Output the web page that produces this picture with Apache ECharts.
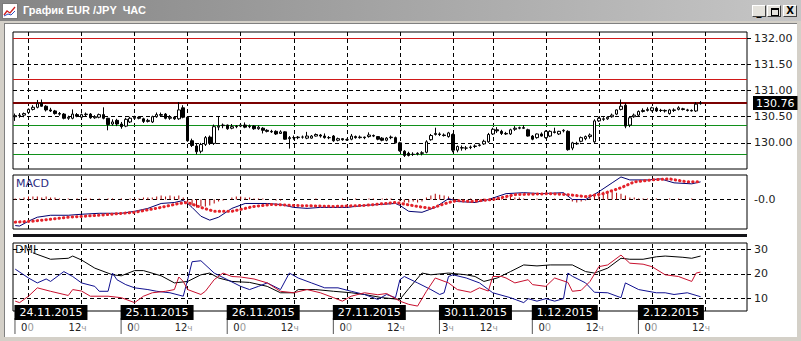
<!DOCTYPE html>
<html><head><meta charset="utf-8">
<script src="https://cdn.jsdelivr.net/npm/echarts@6/dist/echarts.min.js"></script>
<style>
html,body{margin:0;padding:0;width:801px;height:341px;overflow:hidden;background:#d4d0c8;}
#tb{position:absolute;left:0;top:0;width:801px;height:21px;background:linear-gradient(to right,#858585,#c6c6c6);}
#title{position:absolute;left:23px;top:4px;line-height:13px;font:bold 11px "Liberation Sans",Arial,sans-serif;color:#fff;white-space:pre;}
#icon{position:absolute;left:2px;top:3px;}
.btn{position:absolute;top:5px;width:14px;height:12px;background:#e4e2dc;border-top:1px solid #fff;border-left:1px solid #fff;border-right:1px solid #404040;border-bottom:1px solid #404040;box-sizing:border-box;font:bold 10px "DejaVu Sans",sans-serif;color:#000;text-align:center;line-height:10px;}
#client{position:absolute;left:4px;top:23px;width:793px;height:314px;background:#fff;border-left:1px solid #808080;border-top:1px solid #808080;box-sizing:border-box;}
#chart{position:absolute;left:0;top:0;width:801px;height:341px;}
</style></head>
<body>
<div id="client"></div>
<div id="chart"></div>
<div id="tb">
  <svg id="icon" width="16" height="16" viewBox="0 0 16 16"><rect x="0.5" y="0.5" width="15" height="15" fill="#fff" stroke="#7a7a7a"/><polyline points="2,12 5,8 8,10 13,4" fill="none" stroke="#d02020" stroke-width="1.3"/><polyline points="2,13 6,11 9,12 13,8" fill="none" stroke="#3050c0" stroke-width="1"/></svg>
  <span id="title">График EUR /JPY  ЧАС</span>
  <div class="btn" style="left:752px;"><span style="position:relative;top:1px;">_</span></div>
  <div class="btn" style="left:767px;"><div style="position:absolute;left:3px;top:2px;width:6px;height:5px;border:1px solid #000;border-top-width:2px;"></div></div>
  <div class="btn" style="left:783px;">X</div>
</div>
<script>
// ---------- data ----------
const dayList      = ['23.11','24.11','25.11','26.11','27.11','30.11','1.12','2.12'];
const dayFirstHour = [21,0,0,0,0,3,0,0];
const dayLastHour  = [23,23,23,23,23,23,23,21];

// hourly candles: [open, high, low, close]
const ohlc = [
[130.50,130.56,130.42,130.52],[130.52,130.57,130.48,130.53],[130.53,130.58,130.49,130.56],[130.58,130.66,130.55,130.64],
[130.64,130.72,130.62,130.68],[130.68,130.82,130.66,130.75],[130.76,130.83,130.69,130.70],[130.70,130.72,130.60,130.63],
[130.63,130.67,130.59,130.61],[130.61,130.63,130.54,130.56],[130.56,130.59,130.52,130.55],[130.55,130.57,130.45,130.47],
[130.47,130.52,130.44,130.49],[130.47,130.64,130.45,130.55],[130.54,130.57,130.49,130.51],[130.49,130.56,130.47,130.54],
[130.54,130.58,130.51,130.55],[130.55,130.57,130.46,130.48],[130.48,130.53,130.46,130.50],[130.49,130.56,130.47,130.54],
[130.54,130.68,130.45,130.47],[130.47,130.48,130.24,130.35],[130.36,130.45,130.33,130.40],[130.43,130.46,130.32,130.36],
[130.36,130.40,130.27,130.31],[130.32,130.48,130.30,130.45],[130.40,130.50,130.38,130.47],[130.47,130.52,130.44,130.49],
[130.49,130.51,130.45,130.47],[130.46,130.48,130.38,130.41],[130.41,130.46,130.39,130.43],[130.40,130.52,130.38,130.50],
[130.50,130.58,130.48,130.54],[130.54,130.58,130.50,130.53],[130.55,130.57,130.45,130.47],[130.47,130.53,130.44,130.49],
[130.49,130.51,130.44,130.46],[130.46,130.78,130.44,130.63],[130.67,130.72,130.47,130.49],[130.49,130.50,130.02,130.04],
[130.04,130.08,129.92,129.95],[129.94,129.98,129.78,129.83],[129.84,130.00,129.80,129.97],[129.97,130.13,129.94,130.10],
[130.11,130.14,129.96,129.99],[129.99,130.35,129.96,130.31],[130.30,130.51,130.24,130.32],[130.33,130.37,130.28,130.34],
[130.34,130.35,130.25,130.27],[130.28,130.36,130.26,130.31],[130.31,130.34,130.28,130.32],[130.32,130.38,130.30,130.34],
[130.34,130.39,130.28,130.30],[130.31,130.35,130.28,130.32],[130.32,130.34,130.25,130.27],[130.27,130.33,130.25,130.30],
[130.28,130.30,130.18,130.24],[130.24,130.26,130.20,130.22],[130.22,130.25,130.19,130.21],[130.22,130.24,130.15,130.17],
[130.18,130.24,130.17,130.21],[130.21,130.22,130.06,130.07],[130.08,130.13,129.89,130.10],[130.10,130.14,130.06,130.10],
[130.10,130.13,130.07,130.11],[130.11,130.14,130.08,130.11],[130.09,130.21,130.07,130.13],[130.09,130.15,130.08,130.13],
[130.13,130.18,130.12,130.16],[130.15,130.17,130.10,130.13],[130.13,130.18,130.08,130.10],[130.10,130.13,130.07,130.10],
[130.13,130.15,130.02,130.04],[130.05,130.10,130.03,130.08],[130.08,130.09,130.04,130.06],[130.06,130.08,130.04,130.06],
[130.07,130.17,130.05,130.13],[130.12,130.14,130.08,130.10],[130.10,130.14,130.08,130.11],[130.11,130.12,130.07,130.10],
[130.12,130.20,130.10,130.15],[130.14,130.16,130.11,130.13],[130.12,130.13,130.05,130.07],[130.09,130.11,130.03,130.05],
[130.05,130.11,130.03,130.09],[130.10,130.14,130.07,130.11],[130.10,130.12,129.99,130.00],[130.00,130.02,129.83,129.85],
[129.84,129.86,129.73,129.76],[129.80,129.83,129.74,129.76],[129.78,129.82,129.75,129.78],[129.79,129.82,129.76,129.80],
[129.80,129.84,129.76,129.81],[129.82,130.05,129.80,130.02],[130.06,130.17,130.04,130.14],[130.16,130.29,130.14,130.18],
[130.17,130.20,130.13,130.16],[130.15,130.18,130.12,130.14],[130.12,130.21,130.10,130.19],[130.16,130.18,129.82,129.86],
[129.86,129.95,129.82,129.93],[129.90,129.95,129.85,129.91],[129.90,129.94,129.86,129.90],[129.91,129.95,129.88,129.92],
[129.93,129.97,129.90,129.94],[129.95,129.99,129.93,129.96],[129.98,130.06,129.96,130.03],[130.02,130.19,130.00,130.16],
[130.17,130.29,130.15,130.26],[130.25,130.30,130.19,130.23],[130.22,130.25,130.15,130.18],[130.18,130.21,130.15,130.17],
[130.17,130.27,130.15,130.25],[130.26,130.32,130.23,130.28],[130.28,130.31,130.26,130.29],[130.29,130.34,130.27,130.28],
[130.25,130.27,130.12,130.13],[130.13,130.15,130.05,130.07],[130.10,130.18,130.08,130.17],[130.17,130.20,130.12,130.13],
[130.10,130.24,130.08,130.22],[130.13,130.24,130.11,130.22],[130.21,130.29,130.18,130.20],[130.17,130.23,130.15,130.22],
[130.23,130.26,130.20,130.24],[130.22,130.24,129.85,129.87],[129.90,130.02,129.86,130.00],[129.99,130.02,129.96,129.98],
[130.03,130.12,130.01,130.10],[130.08,130.14,130.05,130.12],[130.12,130.18,130.08,130.15],[130.02,130.45,130.00,130.42],
[130.42,130.50,130.40,130.47],[130.45,130.49,130.42,130.46],[130.46,130.51,130.44,130.49],[130.50,130.56,130.48,130.53],
[130.55,130.64,130.53,130.63],[130.64,130.83,130.62,130.70],[130.72,130.76,130.28,130.32],[130.34,130.50,130.30,130.48],
[130.50,130.56,130.48,130.53],[130.53,130.62,130.51,130.60],[130.60,130.66,130.58,130.62],[130.62,130.68,130.60,130.64],
[130.62,130.69,130.60,130.67],[130.66,130.69,130.59,130.61],[130.62,130.65,130.59,130.62],[130.61,130.64,130.58,130.62],
[130.56,130.65,130.54,130.63],[130.62,130.66,130.59,130.63],[130.64,130.70,130.62,130.67],[130.65,130.67,130.62,130.64],
[130.63,130.65,130.60,130.62],[130.62,130.64,130.60,130.61],[130.61,130.78,130.59,130.74],[130.75,130.80,130.73,130.76]
];

const lastPrice   = 130.76;
const priceTicks  = [130.00,130.50,131.00,131.50,132.00];
const redLevels   = [132.00,131.21];
const greenLevels = [130.34,129.78];

// MACD panel
const macdHist = [
0.002,0.002,0.004,0.006,0.006,0.006,0.004,0.006,0.004,0.004,
0.002,0,0.002,0,0.002,0,0.002,0.002,0,0.002,0,0.002,0.002,0,0.002,0,0.002,0.002,0.002,0.004,0.004,0.004,
0.006,0.008,0.006,0.008,0.006,0.008,0.004,
-0.006,-0.012,-0.016,-0.014,-0.014,-0.012,-0.008,-0.004,-0.002,0,
0.004,0.006,0.006,0.004,0.004,0.002,0.002,
0.002,0,0,-0.002,-0.002,0,0,-0.002,0,0,0,0,0.002,0,0,0,0,0,0.002,0,0,0.002,0,0,0.002,0.002,0,0.002,0.002,0.002,0,
-0.004,-0.006,-0.006,-0.004,-0.006,-0.004,
0.004,0.008,0.012,0.010,0.008,0.006,
0.002,0,0,0,0.002,0,0,0.002,0,0,0.002,0.002,0.002,
0.006,0.004,0.004,
0.002,0,0,0.002,0,0,0,0.002,0,0,0,
-0.004,-0.006,-0.004,-0.002,
0.004,0.008,0.012,0.016,0.018,0.016,0.014,0.012,0.008,
0.004,0.004,0.002,0.002,0.002,0,0.002,0,0,0.002,0,0.002,0,0,0.002,0,0
];
const macdLine = [[0,-0.053],[1,-0.054],[3,-0.044],[5,-0.036],[8,-0.032],[12,-0.032],[15,-0.030],[19,-0.028],[24,-0.028],[27,-0.024],[30,-0.018],[33,-0.008],[36,-0.006],[38,-0.002],[39,-0.008],[40,-0.016],[42,-0.034],[44,-0.042],[46,-0.036],[49,-0.018],[52,-0.008],[57,-0.008],[60,-0.010],[63,-0.016],[66,-0.018],[69,-0.016],[75,-0.016],[79,-0.012],[86,-0.008],[87,-0.012],[89,-0.024],[92,-0.026],[95,-0.016],[98,0.002],[100,-0.004],[104,-0.006],[107,0],[111,0.012],[115,0.014],[119,0.012],[124,0.014],[126,0],[129,0],[132,0.016],[135,0.034],[137,0.046],[139,0.040],[143,0.040],[146,0.042],[149,0.034],[153,0.032],[155,0.036]];
const macdSignal = [[0,-0.046],[4,-0.044],[12,-0.036],[19,-0.032],[27,-0.026],[33,-0.016],[37,-0.008],[39,-0.006],[42,-0.016],[45,-0.024],[49,-0.024],[54,-0.014],[58,-0.010],[63,-0.012],[72,-0.014],[79,-0.012],[86,-0.006],[91,-0.014],[94,-0.018],[98,-0.006],[100,-0.002],[103,-0.004],[108,0],[113,0.010],[121,0.012],[125,0.010],[129,0.006],[133,0.012],[137,0.024],[140,0.036],[144,0.040],[148,0.042],[152,0.036],[155,0.036]];

// DMI panel
const adx = [[4,28.5],[8,25.9],[12,26.3],[13,27.2],[15,25.6],[18,22.3],[22,19.6],[24,19.2],[27,21.3],[29,21.3],[33,19.2],[36,16.3],[39,16.9],[42,19.6],[44,20.3],[46,18.3],[49,16.9],[53,16.5],[57,14.9],[60,12.3],[63,12.3],[64,13.6],[68,13.6],[72,12.9],[76,12.3],[79,11.6],[83,10.3],[87,9.6],[89,14],[92,20.3],[94,19.6],[98,20.3],[102,19.6],[104,18.9],[106,16.9],[109,18.3],[112,20.9],[115,23.6],[118,23.2],[121,23.6],[126,23.6],[129,20.9],[131,20.3],[134,22.3],[137,26.3],[139,25.9],[142,25.9],[145,26.9],[147,27.2],[151,26.7],[153,26.3],[155,27.2]];
const minusDI = [[0,21.9],[3,18.3],[5,16.3],[7,17.9],[8,16.9],[11,20.9],[13,18.9],[15,16.3],[18,14.9],[19,12.9],[21,12.9],[22,20.3],[23,17.6],[25,15.6],[27,14.3],[30,13.6],[32,12.9],[35,12.3],[38,10.9],[39,17.6],[40,24.9],[42,25.3],[45,20.3],[48,17.6],[51,14.9],[53,13.6],[55,14.9],[57,16.3],[60,13.6],[62,20.3],[64,18.3],[67,16.3],[70,14.3],[73,14.3],[76,12.9],[79,11.6],[82,9.6],[84,11.6],[86,10.3],[87,17.6],[88,18.9],[91,16.3],[94,13.6],[96,11.6],[97,12.3],[98,18.9],[99,19.6],[102,18.3],[105,16.3],[108,12.3],[112,10.3],[115,8.3],[116,9.9],[118,8.9],[120,9.9],[122,8.9],[124,9.9],[125,20.3],[126,19],[129,16.3],[131,12.5],[134,12.3],[137,10.3],[138,16.3],[141,13.6],[145,12.3],[147,12.3],[149,11.6],[152,12.3],[155,10.7]];
const plusDI = [[0,8.9],[1,8.3],[3,10.9],[5,14.3],[8,12.9],[12,11.2],[13,13.6],[15,13],[17,10.9],[21,10.9],[24,10.3],[27,8.3],[29,10.9],[31,12.3],[34,12.9],[36,13.6],[37,18.7],[38,16.9],[39,13.6],[42,11.6],[43,12.9],[45,17.6],[47,20.3],[49,18.9],[51,18.7],[54,17.9],[57,16.3],[60,12.9],[63,12.3],[66,13.6],[69,12.3],[72,10.3],[74,8.9],[76,10.9],[79,12.3],[82,11.5],[84,12],[87,8.9],[89,7.6],[91,6.9],[93,12.9],[95,18.3],[98,16.3],[100,13.6],[103,12.5],[105,14.3],[107,13],[108,18.9],[110,18.9],[111,18.3],[113,16.3],[116,17.6],[117,15.6],[120,14.9],[122,18.3],[125,16.5],[126,12.9],[128,13.3],[130,16.9],[132,22.9],[134,23.6],[137,27.6],[139,24.3],[142,23.9],[144,22.9],[147,19.6],[150,18.9],[153,16.9],[154,20.3],[155,20.7]];
const dmiTicks = [10,20,30];

// time axis marks
const gridCats = ['24.11 0','24.11 12','25.11 0','25.11 12','26.11 0','26.11 12','27.11 0','27.11 12','30.11 3','30.11 12','1.12 0','1.12 12','2.12 0','2.12 12'];
const hourLabels = [['24.11 0','0','0'],['24.11 12','12','ч'],['25.11 0','0','0'],['25.11 12','12','ч'],['26.11 0','0','0'],['26.11 12','12','ч'],['27.11 0','0','0'],['27.11 12','12','ч'],['30.11 3','3','ч'],['30.11 12','12','ч'],['1.12 0','0','0'],['1.12 12','12','ч'],['2.12 0','0','0'],['2.12 12','12','ч']];
const dateLabels = [['24.11 0','24.11.2015'],['25.11 0','25.11.2015'],['26.11 0','26.11.2015'],['27.11 0','27.11.2015'],['30.11 3','30.11.2015'],['1.12 0','1.12.2015'],['2.12 0','2.12.2015']];

// ---------- build ----------
const categories = [];
dayList.forEach((d,k)=>{ for(let h=dayFirstHour[k]; h<=dayLastHour[k]; h++) categories.push(d+' '+h); });
const candleData = ohlc.map(r => [r[0], r[3], r[2], r[1]]);

const FONT = 'DejaVu Sans';
const dash = [4,3];
const vLines = gridCats.map(c => ({xAxis:c}));
function marks(extra){
  return {silent:true, z:1, symbol:['none','none'], animation:false, label:{show:false},
    lineStyle:{color:'#000', type:dash, width:1}, data: vLines.concat(extra)};
}
const hLine = (v, color, width, type) => ({yAxis:v, lineStyle:{color, width, type}});

const chart = echarts.init(document.getElementById('chart'), null, {renderer:'svg', width:801, height:341});

const gridBase = {left:13, width:734, show:true, borderColor:'#000', borderWidth:1, backgroundColor:'transparent'};
const option = {
  animation:false,
  grid:[
    Object.assign({top:32, height:137}, gridBase),
    Object.assign({top:175, height:54}, gridBase),
    Object.assign({top:243, height:68}, gridBase)
  ],
  xAxis:[0,1,2].map(i => ({type:'category', gridIndex:i, data:categories, boundaryGap:true,
    axisLine:{show:false}, axisTick:{show:false}, axisLabel:{show:false}, splitLine:{show:false}})),
  yAxis:[
    {type:'value', gridIndex:0, position:'right', min:129.5, max:132.12,
      axisLine:{show:false}, splitLine:{show:false},
      axisTick:{show:true, length:4, lineStyle:{color:'#000'}, customValues:priceTicks},
      axisLabel:{customValues:priceTicks, formatter:v=>v.toFixed(2), color:'#222', fontSize:11, fontFamily:FONT, margin:7}},
    {type:'value', gridIndex:1, position:'right', min:-0.06, max:0.05,
      axisLine:{show:false}, splitLine:{show:false}, axisTick:{show:false},
      axisLabel:{customValues:[0], formatter:()=>'-0.0', color:'#222', fontSize:11, fontFamily:FONT, margin:7}},
    {type:'value', gridIndex:2, position:'right', min:4.9, max:32.5,
      axisLine:{show:false}, splitLine:{show:false},
      axisTick:{show:true, length:4, lineStyle:{color:'#000'}, customValues:dmiTicks},
      axisLabel:{customValues:dmiTicks, formatter:v=>String(v), color:'#222', fontSize:11, fontFamily:FONT, margin:7}}
  ],
  series:[
    {type:'candlestick', xAxisIndex:0, yAxisIndex:0, data:candleData, barWidth:3, z:3,
      itemStyle:{color:'#fff', color0:'#000', borderColor:'#000', borderColor0:'#000', borderWidth:1},
      markLine: marks(
        priceTicks.slice(0,4).map(v => ({yAxis:v}))
        .concat(redLevels.map(v => hLine(v,'#d01818',1,'solid')))
        .concat(greenLevels.map(v => hLine(v,'#10901a',1,'solid')))
        .concat([{yAxis:lastPrice, lineStyle:{color:'#7a0000', width:2, type:'solid'},
          label:{show:true, position:'end', distance:6, formatter:lastPrice.toFixed(2), color:'#fff',
            backgroundColor:'#000', padding:[2,3,1,3], fontSize:11, fontFamily:FONT}}])
      )},
    {type:'bar', xAxisIndex:1, yAxisIndex:1, data:macdHist, barWidth:1, itemStyle:{color:'#b00000'}, z:2},
    {type:'line', xAxisIndex:1, yAxisIndex:1, data:macdLine, symbol:'none', z:3,
      lineStyle:{color:'#000070', width:1}, markLine: marks([{yAxis:0}])},
    {type:'line', xAxisIndex:1, yAxisIndex:1, data:macdSignal, symbol:'none', z:4,
      lineStyle:{color:'#e4222a', width:3, type:[0.4,4], cap:'round'}},
    {type:'line', xAxisIndex:2, yAxisIndex:2, data:adx, symbol:'none', z:3,
      lineStyle:{color:'#000', width:1}, markLine: marks(dmiTicks.map(v => ({yAxis:v})))},
    {type:'line', xAxisIndex:2, yAxisIndex:2, data:minusDI, symbol:'none', z:3, lineStyle:{color:'#101090', width:1}},
    {type:'line', xAxisIndex:2, yAxisIndex:2, data:plusDI, symbol:'none', z:4, lineStyle:{color:'#c8102e', width:1}}
  ]
};
chart.setOption(option);

// labels positioned through the category axis
const px = c => chart.convertToPixel({xAxisIndex:2}, c);
const g = [];
g.push({type:'text', x:16, y:183, style:{text:'MACD', fill:'#2a2a80', fontSize:11, fontFamily:FONT, verticalAlign:'middle'}});
g.push({type:'text', x:15, y:249, style:{text:'DMI', fill:'#222', fontSize:11, fontFamily:FONT, verticalAlign:'middle'}});
g.push({type:'rect', shape:{x:13, y:234, width:734, height:3}, style:{fill:'#141418'}});
dateLabels.forEach(([c, t]) => {
  const x = px(c) - 14;
  g.push({type:'line', shape:{x1:x+0.5, y1:318, x2:x+0.5, y2:334}, style:{stroke:'#555', lineWidth:1}});
  g.push({type:'text', x:x, y:312.5, z:10, style:{text:t, fill:'#fff', fontSize:11, fontFamily:FONT,
    backgroundColor:'#000', padding:[1,5,1,5], lineHeight:13, align:'left', verticalAlign:'middle'}});
});
hourLabels.forEach(([c, a, b]) => {
  const off = (a === '0') ? -1 : (a === '3' ? -5 : -4);
  g.push({type:'text', x:px(c)+off, y:327.5, style:{text:'{a|'+a+'}{b|'+b+'}', align:'center', verticalAlign:'middle',
    rich:{a:{fill:'#222', fontSize:10, fontFamily:FONT}, b:{fill:'#999', fontSize:(b==='ч'?9:10), fontFamily:FONT}}}});
});
chart.setOption({graphic:g});
</script>
</body></html>
